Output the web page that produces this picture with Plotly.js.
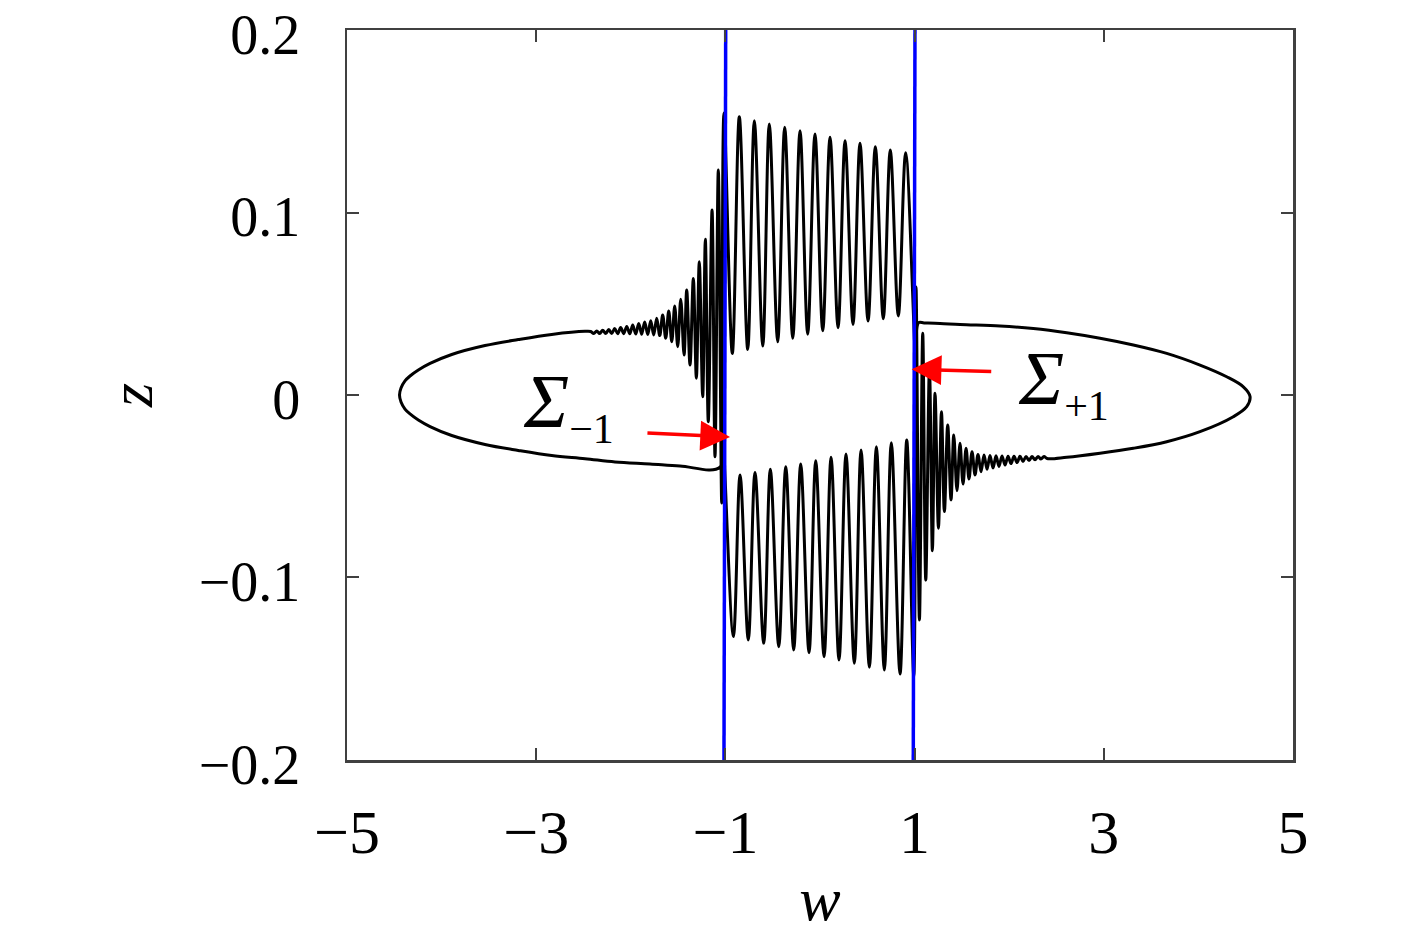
<!DOCTYPE html>
<html>
<head>
<meta charset="utf-8">
<script src="https://cdn.plot.ly/plotly-3.0.1.min.js"></script>
<style>
  body { margin: 0; background: #fff; }
  #chart { width: 1417px; height: 933px; }
</style>
</head>
<body>
<div id="chart"></div>
<script>
// values (w, z)

// left loop: lower arc going left, round the nose, back along the upper arc
const leftArcW = [-1.057, -1.480, -1.797, -2.167, -2.484, -2.836, -3.189, -3.541, -3.893, -4.122, -4.246, -4.334, -4.387, -4.429, -4.445,
                  -4.429, -4.387, -4.334, -4.246, -4.122, -3.893, -3.541, -3.189, -2.836, -2.484];
const leftArcZ = [-0.0395, -0.0389, -0.0378, -0.0367, -0.0349, -0.0332, -0.0304, -0.0271, -0.0222, -0.0173, -0.0137, -0.0104, -0.0077, -0.0038, 0,
                  0.0038, 0.0077, 0.0104, 0.0137, 0.0173, 0.0222, 0.0271, 0.0304, 0.0332, 0.0349];

// growing oscillation before Sigma_-1 (top, bottom, top, ...)
const leftOscW = [-2.424, -2.392, -2.360, -2.329, -2.297, -2.265, -2.233, -2.202, -2.170, -2.138, -2.107, -2.075,
                  -2.043, -2.011, -1.980, -1.948, -1.916, -1.885, -1.853, -1.821, -1.789, -1.758, -1.726, -1.694,
                  -1.663, -1.631, -1.599, -1.567, -1.536, -1.504, -1.472, -1.437, -1.409, -1.374, -1.339, -1.307,
                  -1.276, -1.240, -1.212, -1.181, -1.141, -1.110, -1.075, -1.039, -1.015];
const leftOscZ = [0.0348, 0.0337, 0.0351, 0.0337, 0.0355, 0.0337, 0.0359, 0.0337, 0.0364, 0.0336, 0.0370, 0.0336,
                  0.0376, 0.0335, 0.0384, 0.0334, 0.0392, 0.0333, 0.0400, 0.0331, 0.0407, 0.0329, 0.0420, 0.0326,
                  0.0438, 0.0311, 0.0460, 0.0292, 0.0488, 0.0265, 0.0524, 0.0219, 0.0575, 0.0164, 0.0639, 0.0092,
                  0.0730, -0.0009, 0.0853, -0.0146, 0.1014, -0.0338, 0.1233, -0.0592, 0.1545];

// upper band between the two switching lines (trough, peak, ...)
const upperBandW = [-0.927, -0.853, -0.764, -0.694, -0.605, -0.536, -0.447, -0.373, -0.288, -0.211, -0.130, -0.053,
                    0.029, 0.106, 0.191, 0.265, 0.349, 0.423, 0.508, 0.585, 0.669, 0.743, 0.828, 0.906,
                    1.020, 1.042];
const upperBandZ = [0.0228, 0.1525, 0.0250, 0.1503, 0.0268, 0.1485, 0.0292, 0.1467, 0.0311, 0.1448, 0.0333, 0.1430,
                    0.0352, 0.1412, 0.0369, 0.1393, 0.0387, 0.1379, 0.0405, 0.1361, 0.0418, 0.1342, 0.0433, 0.1328,
                    0.0126, 0.0396];

// right loop: upper arc going right, round the nose, back along the lower arc
const rightArcW = [1.100, 1.269, 1.480, 1.903, 2.255, 2.608, 2.960, 3.312, 3.665, 4.017, 4.299, 4.475, 4.546,
                   4.511, 4.369, 4.017, 3.665, 3.312, 2.960, 2.608];
const rightArcZ = [0.0395, 0.0392, 0.0386, 0.0378, 0.0364, 0.0341, 0.0311, 0.0274, 0.0228, 0.0164, 0.0100, 0.0045, -0.0008,
                   -0.0064, -0.0119, -0.0201, -0.0256, -0.0292, -0.0319, -0.0341];

// growing oscillation before Sigma_+1 (bottom, top, bottom, ...)
const rightOscW = [2.400, 2.368, 2.336, 2.305, 2.273, 2.241, 2.210, 2.178, 2.146, 2.114, 2.083, 2.051,
                   2.019, 1.988, 1.956, 1.924, 1.892, 1.861, 1.829, 1.797, 1.766, 1.734, 1.702, 1.670,
                   1.639, 1.607, 1.575, 1.544, 1.512, 1.480, 1.448, 1.414, 1.385, 1.350, 1.315, 1.284,
                   1.252, 1.216, 1.188, 1.157, 1.118, 1.086, 1.051, 1.015, 0.991];
const rightOscZ = [-0.0348, -0.0337, -0.0351, -0.0337, -0.0355, -0.0337, -0.0359, -0.0337, -0.0364, -0.0336, -0.0370, -0.0336,
                   -0.0376, -0.0335, -0.0384, -0.0334, -0.0392, -0.0333, -0.0400, -0.0331, -0.0407, -0.0329, -0.0420, -0.0326,
                   -0.0438, -0.0311, -0.0460, -0.0292, -0.0488, -0.0265, -0.0524, -0.0219, -0.0575, -0.0164, -0.0639, -0.0092,
                   -0.0730, 0.0009, -0.0853, 0.0146, -0.1014, 0.0338, -0.1233, 0.0592, -0.1545];

// lower band, back from Sigma_+1 to Sigma_-1 (peak, trough, ...)
const lowerBandW = [0.917, 0.846, 0.754, 0.680, 0.596, 0.522, 0.434, 0.363, 0.275, 0.201, 0.117, 0.043,
                    -0.045, -0.116, -0.204, -0.278, -0.362, -0.436, -0.525, -0.595, -0.687, -0.758, -0.845, -0.916,
                    -1.039, -1.057];
const lowerBandZ = [-0.0247, -0.1529, -0.0261, -0.1507, -0.0283, -0.1492, -0.0301, -0.1470, -0.0323, -0.1452, -0.0341, -0.1434,
                    -0.0360, -0.1412, -0.0378, -0.1397, -0.0393, -0.1379, -0.0407, -0.1361, -0.0424, -0.1342, -0.0438, -0.1324,
                    -0.0121, -0.0395];

// switching lines
const sigmaZ = [-0.2, 0.2];
const sigmaMinusW = [-1.015, -0.997];
const sigmaPlusW = [0.986, 1.004];

// arrows: [tail w, tail z, head w, head z]
const arrowMinus = [-1.84, -0.0208, -0.951, -0.0230];
const arrowPlus = [1.826, 0.0128, 0.969, 0.0141];

const xTicks = [-5, -3, -1, 1, 3, 5];
const xTickText = ['−5', '−3', '−1', '1', '3', '5'];
const yTicks = [-0.2, -0.1, 0, 0.1, 0.2];
const yTickText = ['−0.2', '−0.1', '0', '0.1', '0.2'];

// join the pieces into one closed orbit
let orbitW = [].concat(leftArcW, leftOscW, upperBandW, rightArcW, rightOscW, lowerBandW);
let orbitZ = [].concat(leftArcZ, leftOscZ, upperBandZ, rightArcZ, rightOscZ, lowerBandZ);

const serif = 'Liberation Serif, Times New Roman, serif';
const frame = '#404040';

var data = [
  {
    x: orbitW, y: orbitZ,
    mode: 'lines',
    line: {color: '#000000', width: 3, shape: 'spline', smoothing: 1},
    hoverinfo: 'skip'
  },
  {
    x: sigmaMinusW, y: sigmaZ,
    mode: 'lines',
    line: {color: '#0000ff', width: 3.5},
    hoverinfo: 'skip'
  },
  {
    x: sigmaPlusW, y: sigmaZ,
    mode: 'lines',
    line: {color: '#0000ff', width: 3.5},
    hoverinfo: 'skip'
  }
];

function arrow(a) {
  return {
    x: a[2], y: a[3], ax: a[0], ay: a[1],
    xref: 'x', yref: 'y', axref: 'x', ayref: 'y',
    text: '', showarrow: true,
    arrowhead: 2, arrowsize: 1.7, arrowwidth: 3.5, arrowcolor: '#ff0000',
    standoff: 0, startstandoff: 0
  };
}

function sigmaLabel(w, z, sub) {
  return {
    x: w, y: z, xref: 'x', yref: 'y',
    xanchor: 'left', yanchor: 'middle',
    text: '<i>Σ</i><sub><span style="font-size:42px">' + sub + '</span></sub>',
    showarrow: false,
    font: {family: serif, size: 76, color: '#000000'}
  };
}

var layout = {
  width: 1417,
  height: 933,
  margin: {l: 347, r: 124, t: 30, b: 173},
  paper_bgcolor: '#ffffff',
  plot_bgcolor: '#ffffff',
  showlegend: false,
  font: {family: serif, color: '#000000'},
  xaxis: {
    range: [-5.0001, 5.0001],
    tickvals: xTicks,
    ticktext: xTickText,
    ticks: 'inside', ticklen: 12, tickwidth: 2, tickcolor: frame,
    showline: true, linecolor: frame, linewidth: 2.5, mirror: 'ticks',
    showgrid: false, zeroline: false,
    tickfont: {family: serif, size: 62, color: '#000000'},
    ticklabelstandoff: 16,
    ticklabeloverflow: 'allow',
    title: {text: '<i>w</i>', font: {family: serif, size: 62, color: '#000000'}, standoff: 27}
  },
  yaxis: {
    range: [-0.20001, 0.20001],
    tickvals: yTicks,
    ticktext: yTickText,
    ticks: 'inside', ticklen: 12, tickwidth: 2, tickcolor: frame,
    showline: true, linecolor: frame, linewidth: 2.5, mirror: 'ticks',
    showgrid: false, zeroline: false,
    tickfont: {family: serif, size: 56, color: '#000000'},
    ticklabelstandoff: 33,
    ticklabelshift: 4,
    ticklabeloverflow: 'allow',
    title: {text: '<i>z</i>', font: {family: serif, size: 62, color: '#000000'}, standoff: 26}
  },
  annotations: [
    arrow(arrowMinus),
    arrow(arrowPlus),
    sigmaLabel(-3.16, -0.0060, '−1'),
    sigmaLabel(2.07, 0.0071, '+1')
  ]
};

Plotly.newPlot('chart', data, layout, {displayModeBar: false, staticPlot: true});
</script>
</body>
</html>
